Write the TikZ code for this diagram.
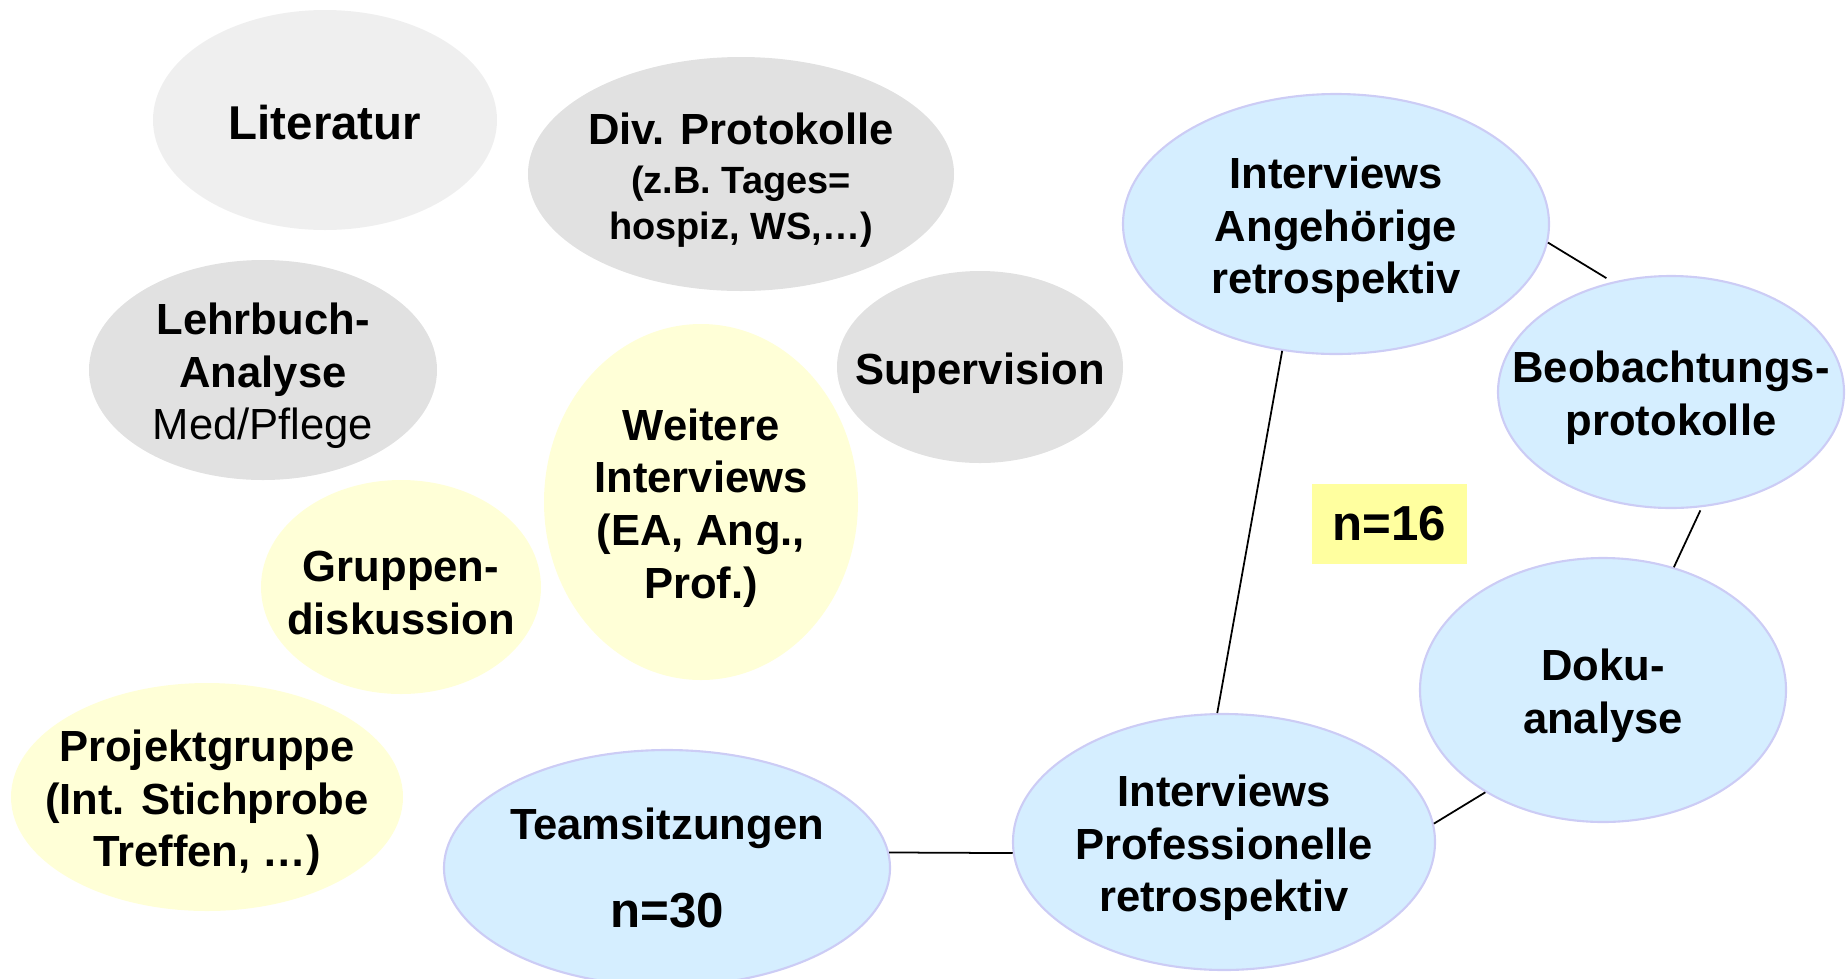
\documentclass[tikz,border=0pt]{standalone}
\usepackage{fontspec}
\setmainfont{Liberation Sans}
\usetikzlibrary{shapes.geometric}

\definecolor{lgray}{HTML}{EFEFEF}
\definecolor{mgray}{HTML}{E1E1E1}
\definecolor{pyellow}{HTML}{FFFFD7}
\definecolor{pblue}{HTML}{D5EEFF}
\definecolor{pblueline}{HTML}{CCCCF5}
\definecolor{nbox}{HTML}{FFFF9F}

\begin{document}
\begin{tikzpicture}[
  bub/.style={ellipse, inner sep=0pt},
  graybub/.style={bub, fill=mgray},
  yelbub/.style={bub, fill=pyellow},
  bluebub/.style={bub, fill=pblue, draw=pblueline, line width=0.6pt},
  txt/.style={align=center, yshift=-1.7pt, font=\bfseries\fontsize{12.4}{15}\selectfont},
  bigtxt/.style={align=center, yshift=-0.6pt, font=\bfseries\fontsize{13.5}{16}\selectfont},
  link/.style={line width=0.5pt}]
\useasboundingbox (0,0) rectangle (18.47,-9.78);

% Quellen links
\node[bub, fill=lgray, minimum width=3.44cm, minimum height=2.20cm] (lit) at (3.25,-1.20) {};
\node[bigtxt] (lit-t) at (lit) {Literatur};
\node[graybub, minimum width=4.26cm, minimum height=2.34cm] (div) at (7.41,-1.74) {};
\node[txt] (div-t) at (div) {Div. Protokolle\\[-1pt]{\fontsize{10.8}{13}\selectfont (z.B. Tages=}\\[-2pt]{\fontsize{10.8}{13}\selectfont hospiz, WS,…)}};
\node[graybub, minimum width=3.48cm, minimum height=2.20cm] (lehr) at (2.63,-3.70) {};
\node[txt] (lehr-t) at (lehr) {Lehrbuch-\\Analyse\\{\mdseries Med/Pflege}};
\node[graybub, minimum width=2.86cm, minimum height=1.92cm] (sup) at (9.80,-3.67) {};
\node[txt] (sup-t) at (sup) {Supervision};
\node[yelbub, minimum width=3.14cm, minimum height=3.56cm] (weit) at (7.01,-5.02) {};
\node[txt] (weit-t) at (weit) {Weitere\\Interviews\\(EA, Ang.,\\Prof.)};
\node[yelbub, minimum width=2.80cm, minimum height=2.14cm] (grp) at (4.01,-5.87) {};
\node[txt] (grp-t) at (grp) {Gruppen-\\diskussion};
\node[yelbub, minimum width=3.92cm, minimum height=2.28cm] (proj) at (2.07,-7.97) {};
\node[txt] (proj-t) at (proj) {Projektgruppe\\(Int. Stichprobe\\Treffen, …)};

% Kern
\node[bluebub, minimum width=4.46cm, minimum height=2.36cm] (team) at (6.67,-8.68) {};
\node[txt, yshift=1.7pt] (team-t) at (team) {Teamsitzungen\\[10pt]{\fontsize{14}{17}\selectfont n=30}};
\node[bluebub, minimum width=4.26cm, minimum height=2.60cm] (ia) at (13.36,-2.24) {};
\node[txt] (ia-t) at (ia) {Interviews\\Angehörige\\retrospektiv};
\node[bluebub, minimum width=3.46cm, minimum height=2.32cm] (bp) at (16.71,-3.92) {};
\node[txt] (bp-t) at (bp) {Beobachtungs-\\protokolle};
\node[bluebub, minimum width=3.66cm, minimum height=2.64cm] (doku) at (16.03,-6.90) {};
\node[txt] (doku-t) at (doku) {Doku-\\analyse};
\node[bluebub, minimum width=4.22cm, minimum height=2.56cm] (ip) at (12.24,-8.42) {};
\node[txt] (ip-t) at (ip) {Interviews\\Professionelle\\retrospektiv};
\node[fill=nbox, minimum width=1.55cm, minimum height=0.80cm, font=\bfseries\fontsize{14}{17}\selectfont] (n16) at (13.895,-5.24) {n=16};

\draw[link] (ia.247) -- (ip.93);
\draw[link, shorten >=2pt] (ia.-5) -- (bp.118);
\draw[link, shorten <=1pt] (bp.-75) -- (doku.60);
\draw[link] (doku.221) -- (ip.5);
\draw[link] (team.4) -- (ip.183);
\end{tikzpicture}
\end{document}
